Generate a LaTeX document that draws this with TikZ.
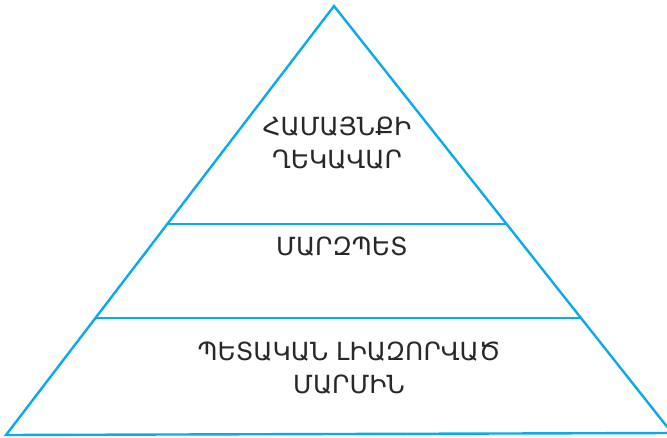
\documentclass[tikz,border=0pt]{standalone}
\usepackage{fontspec}
\newfontfamily\armfont{DejaVu Sans}
\definecolor{pyr}{RGB}{10,170,235}
\definecolor{txt}{RGB}{40,40,40}
\tikzset{
  outer/.style={draw=pyr, line width=2.4pt, line join=miter},
  divider/.style={draw=pyr, line width=1.3pt},
  lbl/.style={font=\armfont\fontsize{25}{33}\selectfont, text=txt, align=center, inner sep=0pt}
}
\begin{document}
\begin{tikzpicture}[x=1pt,y=-1pt]
\useasboundingbox (0,0) rectangle (667,438);
\coordinate (apex) at (334,6);
\coordinate (bl) at (6,435);
\coordinate (br) at (672,433);
\coordinate (l1) at (167,224);
\coordinate (r1) at (506,224);
\coordinate (l2) at (95,318);
\coordinate (r2) at (582,318);
\draw[outer] (apex) -- (bl) -- (br) -- cycle;
\draw[divider] (l1) -- (r1);
\draw[divider] (l2) -- (r2);
\node[lbl] (top) at (337,143) {ՀԱՄԱՅՆՔԻ\\ՂԵԿԱՎԱՐ};
\node[lbl] (mid) at (342,247) {ՄԱՐԶՊԵՏ};
\node[lbl] (bot) at (349,368) {ՊԵՏԱԿԱՆ ԼԻԱԶՈՐՎԱԾ\\ՄԱՐՄԻՆ};
\end{tikzpicture}
\end{document}
